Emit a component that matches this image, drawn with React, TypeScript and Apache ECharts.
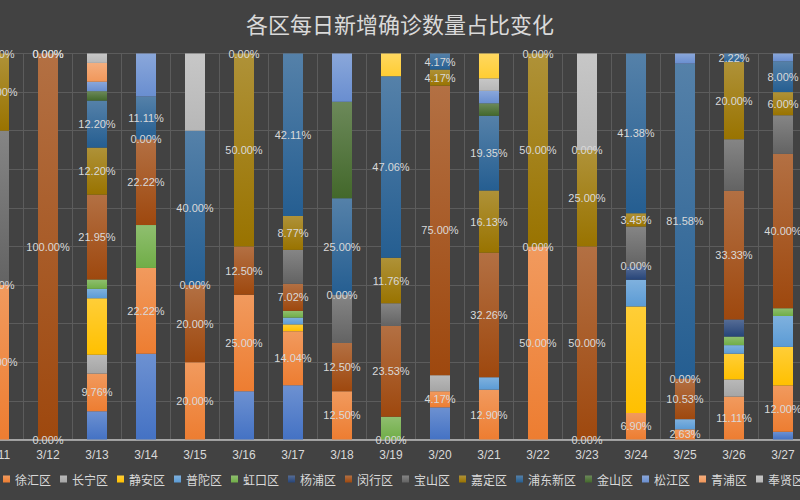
import React, { useEffect, useRef } from 'react';
import * as echarts from 'echarts';

const categories = ['3/11', '3/12', '3/13', '3/14', '3/15', '3/16', '3/17', '3/18', '3/19', '3/20', '3/21', '3/22', '3/23', '3/24', '3/25', '3/26', '3/27'];

const districts = ['黄浦区', '徐汇区', '长宁区', '静安区', '普陀区', '虹口区', '杨浦区', '闵行区', '宝山区', '嘉定区', '浦东新区', '金山区', '松江区', '青浦区', '奉贤区', '崇明区'];

// daily new confirmed cases per district (3/11 .. 3/27)
const huangpu = [0, 0, 3, 2, 0, 1, 8, 0, 0, 2, 0, 0, 0, 0, 0, 0, 1];
const xuhui = [2, 0, 4, 2, 1, 2, 8, 1, 0, 1, 4, 1, 0, 2, 1, 5, 6];
const changning = [0, 0, 2, 0, 0, 0, 0, 0, 0, 1, 0, 0, 0, 0, 0, 2, 0];
const jingan = [0, 0, 6, 0, 0, 0, 1, 0, 0, 0, 0, 0, 0, 8, 0, 3, 5];
const putuo = [0, 0, 1, 0, 0, 0, 1, 0, 0, 0, 1, 0, 0, 2, 1, 1, 4];
const hongkou = [0, 0, 1, 1, 0, 0, 1, 0, 1, 0, 0, 0, 0, 0, 0, 1, 1];
const yangpu = [0, 0, 0, 0, 0, 0, 0, 0, 0, 0, 0, 0, 0, 1, 0, 2, 0];
const minhang = [0, 1, 9, 2, 1, 1, 4, 1, 4, 18, 10, 0, 2, 0, 4, 15, 20];
const baoshan = [2, 0, 0, 0, 0, 0, 5, 1, 1, 0, 0, 0, 0, 3, 0, 6, 5];
const jiading = [1, 0, 5, 0, 0, 4, 5, 0, 2, 1, 5, 1, 1, 1, 0, 9, 3];
const pudong = [0, 0, 5, 1, 2, 0, 24, 2, 8, 1, 6, 0, 0, 12, 31, 1, 4];
const jinshan = [0, 0, 1, 0, 0, 0, 0, 2, 0, 0, 1, 0, 0, 0, 0, 0, 0];
const songjiang = [0, 0, 1, 1, 0, 0, 0, 1, 0, 0, 1, 0, 0, 0, 1, 0, 1];
const qingpu = [0, 0, 2, 0, 0, 0, 0, 0, 0, 0, 0, 0, 0, 0, 0, 0, 0];
const fengxian = [0, 0, 1, 0, 1, 0, 0, 0, 0, 0, 1, 0, 1, 0, 0, 0, 0];
const chongming = [0, 0, 0, 0, 0, 0, 0, 0, 1, 0, 2, 0, 0, 0, 0, 0, 0];

const seriesCounts = [huangpu, xuhui, changning, jingan, putuo, hongkou, yangpu, minhang, baoshan, jiading, pudong, jinshan, songjiang, qingpu, fengxian, chongming];

const colors = ['#4472C4', '#ED7D31', '#A5A5A5', '#FFC000', '#5B9BD5', '#70AD47', '#264478', '#9E480E', '#636363', '#997300', '#255E91', '#43682B', '#698ED0', '#F1975A', '#B7B7B7', '#FFCD33'];

const labeledDistricts = ['徐汇区', '闵行区', '嘉定区', '浦东新区'];

function lighten(hex: string, amt: number): string {
  const n = parseInt(hex.slice(1), 16);
  const r = (n >> 16) & 255, g = (n >> 8) & 255, b = n & 255;
  const f = (c: number) => Math.round(c + (255 - c) * amt);
  return `rgb(${f(r)},${f(g)},${f(b)})`;
}

export default function App() {
  const ref = useRef<HTMLDivElement>(null);
  useEffect(() => {
    if (!ref.current) return;
    const chart = echarts.init(ref.current, undefined, { renderer: 'svg' });
    const totals = categories.map((_, i) => seriesCounts.reduce((s, arr) => s + arr[i], 0));
    const series = districts.map((name, k) => ({
      name,
      type: 'bar',
      stack: 'total',
      barWidth: 20,
      data: seriesCounts[k].map((v, i) => (v / totals[i]) * 100),
      itemStyle: {
        color: new echarts.graphic.LinearGradient(0, 0, 0, 1, [
          { offset: 0, color: lighten(colors[k], 0.22) },
          { offset: 1, color: colors[k] },
        ]),
      },
      label: {
        show: labeledDistricts.includes(name),
        position: 'inside',
        color: '#d9d9d9',
        fontSize: 11,
        fontFamily: 'Liberation Sans, Arial, sans-serif',
        formatter: (p: any) => `${Number(p.value).toFixed(2)}%`,
      },
    }));
    chart.setOption({
      animation: false,
      backgroundColor: '#424242',
      color: colors,
      title: {
        text: '各区每日新增确诊数量占比变化',
        left: 'center',
        top: 7,
        textStyle: { color: '#d9d9d9', fontSize: 22, fontWeight: 'normal', fontFamily: 'Noto Sans CJK SC' },
      },
      legend: {
        data: districts,
        left: 41,
        bottom: 10,
        icon: 'rect',
        itemWidth: 7,
        itemHeight: 7,
        itemGap: 9,
        textStyle: { color: '#d9d9d9', fontSize: 12, fontFamily: 'Noto Sans CJK SC' },
      },
      grid: { left: 74.5, right: 92.5, top: 53.5, bottom: 60.5, containLabel: false },
      xAxis: {
        type: 'category',
        data: categories,
        axisLine: { lineStyle: { color: '#bfbfbf', width: 1.5 } },
        axisTick: { show: false },
        axisLabel: { color: '#d9d9d9', fontSize: 12, margin: 9, fontFamily: 'Liberation Sans, Arial, sans-serif' },
        splitLine: { show: true, interval: 0, lineStyle: { color: '#5c5c5c', width: 1 } },
      },
      yAxis: {
        type: 'value',
        min: 0,
        max: 100,
        interval: 10,
        axisLabel: { show: false },
        axisLine: { show: false },
        axisTick: { show: false },
        splitLine: { lineStyle: { color: '#5c5c5c', width: 1 } },
      },
      series,
    });
    return () => chart.dispose();
  }, []);
  return (
    <div style={{ position: 'fixed', left: 0, top: 0, width: 800, height: 500, overflow: 'hidden' }}>
      <div ref={ref} style={{ position: 'absolute', left: -100, top: 0, width: 1000, height: 500 }} />
    </div>
  );
}
